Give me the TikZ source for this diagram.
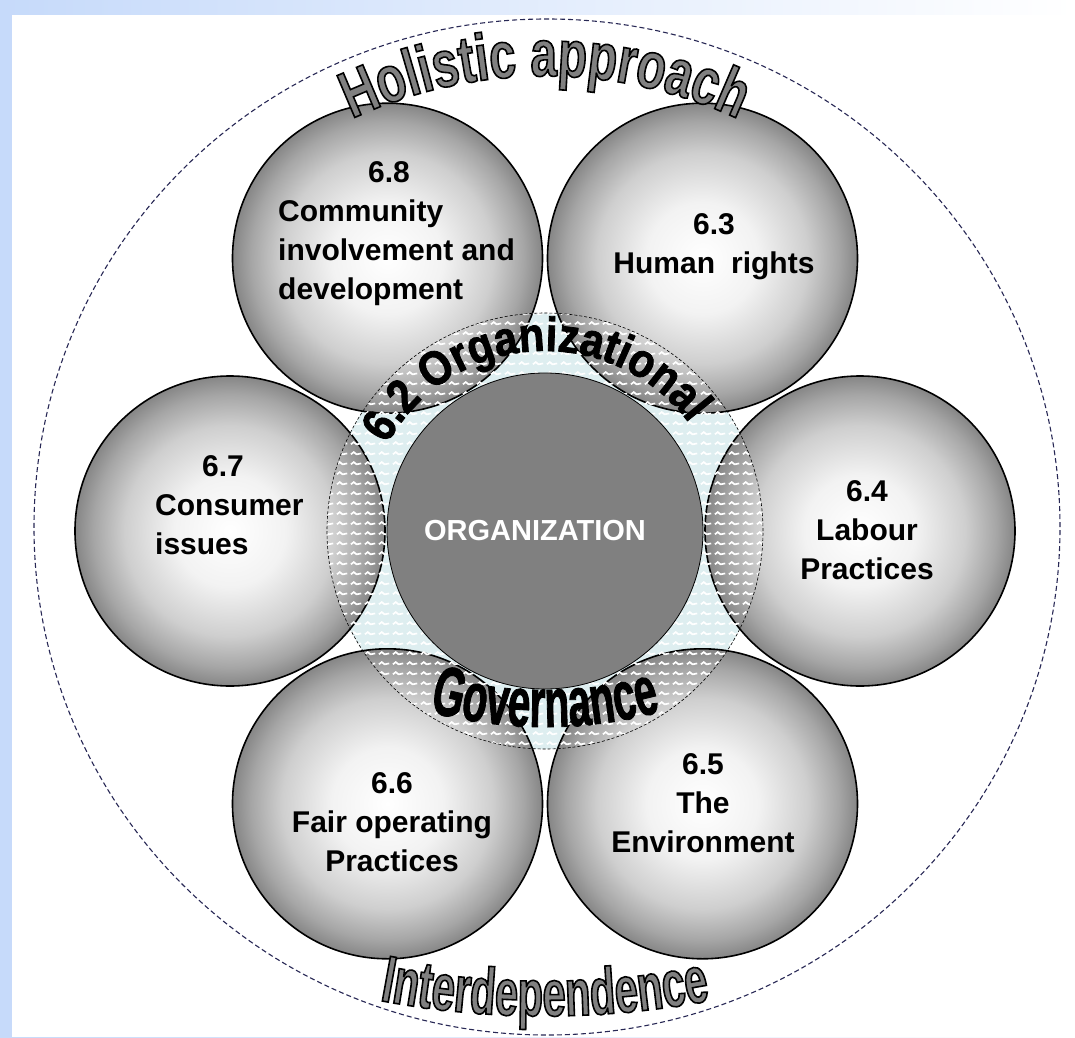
\documentclass[tikz,border=0pt]{standalone}
\usepackage{fontspec}
\setmainfont{Liberation Sans}
\newfontfamily\holfont[FakeStretch=0.72]{Liberation Sans}
\newfontfamily\depfont[FakeStretch=0.63]{Liberation Sans}
\newfontfamily\govfont[FakeStretch=0.58]{Liberation Sans}
\newfontfamily\orgfont[FakeStretch=0.87]{Liberation Sans}
\usetikzlibrary{patterns, decorations.text}

\definecolor{bgblue}{RGB}{198,218,250}
\definecolor{ringfill}{RGB}{222,238,240}
\definecolor{rimline}{RGB}{40,40,85}
\definecolor{coregray}{RGB}{128,128,128}

\pgfdeclareradialshading{pillow}{\pgfpointorigin}{color(0bp)=(white); color(9bp)=(gray!10); color(17bp)=(gray!38); color(22bp)=(gray!70); color(25bp)=(gray!95); color(50bp)=(gray!95)}

\pgfdeclarepatternformonly{ringmarks}{\pgfqpoint{0pt}{0pt}}{\pgfqpoint{14pt}{10pt}}{\pgfqpoint{14pt}{10pt}}{
  \pgfsetlinewidth{1.8pt}
  \pgfpathmoveto{\pgfqpoint{1pt}{4pt}}
  \pgfpathlineto{\pgfqpoint{4pt}{6.5pt}}
  \pgfpathlineto{\pgfqpoint{7pt}{4pt}}
  \pgfpathlineto{\pgfqpoint{12pt}{5pt}}
  \pgfusepath{stroke}
}

% outlined letters: fill plus black stroke
\newcommand{\outlineon}[1]{\special{pdf:literal 0 G #1 w 2 Tr}}

\tikzset{
  topic/.style={circle, draw=black, line width=1.6pt, minimum size=310pt, inner sep=0pt, shade, shading=pillow},
  core/.style={circle, draw=black, line width=0.8pt, fill=coregray, minimum size=316pt, inner sep=0pt},
  topictext/.style={font=\bfseries\fontsize{30}{39}\selectfont, inner sep=0pt, anchor=north},
  arctext/.style={decorate, decoration={text along path, text align=center, text color=#1}}
}

\begin{document}
\begin{tikzpicture}[x=1pt, y=1pt]
  % page
  \useasboundingbox (-545,-506) rectangle (530,531);
  \shade[left color=bgblue, right color=white] (-545,-506) rectangle (530,531);
  \fill[white] (-533,-506) rectangle (530,516);

  % outer rim
  \draw[rimline, line width=1.1pt, dash pattern=on 5pt off 3pt] (2,4) ellipse[x radius=513, y radius=508];

  % governance ring
  \fill[ringfill] (0,0) circle[radius=218];

  \foreach \ang/\name in {60/c63, 0/c64, -60/c65, -120/c66, 180/c67, 120/c68}
    \node[topic] (\name) at (\ang:315) {};

  \path[pattern=ringmarks, pattern color=white] (0,0) circle[radius=218];
  \draw[black, line width=0.6pt, densely dashed] (0,0) circle[radius=218];

  \node[core] (org) at (0,0) {};
  \node[font=\bfseries\fontsize{29}{29}\selectfont, text=white, inner sep=0pt] (orgname) at (-10,0) {ORGANIZATION};

  % core subjects
  \node[topictext, anchor=north west, align=left] (t68) at (-267,370) {\hspace*{90pt}6.8\\Community\\involvement and\\development};
  \node[topictext, align=center] (t63) at (169,318) {6.3\\Human\hspace{16pt}rights};
  \node[topictext, align=center] (t64) at (322,51) {6.4\\Labour\\Practices};
  \node[topictext, align=center] (t65) at (158,-222) {6.5\\The\\Environment};
  \node[topictext, align=center] (t66) at (-153,-241) {6.6\\Fair operating\\Practices};
  \node[topictext, anchor=north west, align=left] (t67) at (-390,76) {\hspace*{47pt}6.7\\Consumer\\issues};

  % curved titles
  \path[arctext=black, decoration={text={|\orgfont\bfseries\fontsize{48}{48}\selectfont\color{black}\outlineon{0.8}|6.2 Organizational}}]
    (164:180) arc[start angle=164, end angle=24, radius=180];
  \path[arctext=black, decoration={text={|\govfont\bfseries\fontsize{70}{70}\selectfont\color{black}\outlineon{0.8}|Governance}}]
    (0,252) ++(250:448) arc[start angle=250, end angle=290, radius=448];
  \path[arctext=gray, decoration={text={|\holfont\bfseries\fontsize{66}{66}\selectfont\color{gray}\outlineon{1.6}|Holistic approach}}]
    (120:455) arc[start angle=120, end angle=60, radius=455];
  \path[arctext=gray, decoration={text={|\depfont\bfseries\fontsize{66}{66}\selectfont\color{gray}\outlineon{1.6}|Interdependence}}]
    (0,405) ++(257:890) arc[start angle=257, end angle=283, radius=890];
\end{tikzpicture}
\end{document}
